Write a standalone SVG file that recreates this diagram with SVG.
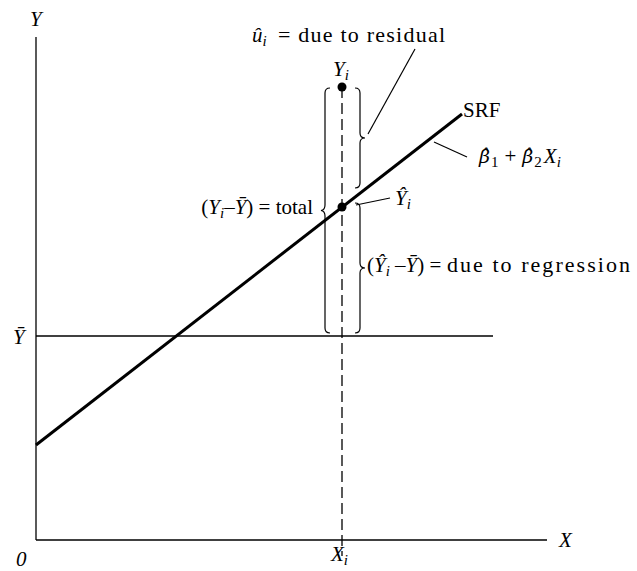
<svg xmlns="http://www.w3.org/2000/svg" width="637" height="571" viewBox="0 0 637 571">
<style>
text{font-family:"Liberation Serif","DejaVu Serif",serif;font-size:21px;fill:#000}
.it{font-style:italic}
.sub{font-size:15px}
.big{font-size:22px}
.dv{font-family:"DejaVu Serif",serif;font-size:19px}
.ax{stroke:#000;stroke-width:1.3;fill:none}
.thin{stroke:#000;stroke-width:1.2;fill:none}
.srf{stroke:#000;stroke-width:3;fill:none}
.dash{stroke:#000;stroke-width:1.3;stroke-dasharray:11 5;fill:none}
</style>
<rect width="637" height="571" fill="#fff"/>
<g id="axes">
<line class="ax" x1="36" y1="37" x2="36" y2="540"/>
<line class="ax" x1="36" y1="540" x2="547" y2="540"/>
<line class="ax" x1="36" y1="336" x2="493" y2="336"/>
<text class="it" x="30" y="26">Y</text>
<text class="it" x="559" y="547">X</text>
<text class="it" x="16" y="566">0</text>
<text class="it" x="13" y="344">Ȳ</text>
<text x="331" y="561"><tspan class="it">X</tspan><tspan class="it sub" dy="4">i</tspan></text>
</g>
<g id="connectors">
<line class="srf" x1="36" y1="445" x2="462" y2="114"/>
<line class="dash" x1="342" y1="87" x2="342" y2="556"/>
<line class="thin" x1="368" y1="134" x2="415" y2="49"/>
<line class="thin" x1="434" y1="142" x2="467" y2="157"/>
<line class="thin" x1="356" y1="205" x2="390" y2="198"/>
<path class="thin" d="M330,88 Q325,88 325,93 L325,205 Q325,210 321,210.5 Q325,211 325,216 L325,328 Q325,333 330,333"/>
<path class="thin" d="M355,88 Q360,88 360,93 L360,133 Q360,138 365,138 Q360,138 360,143 L360,183 Q360,188 355,188"/>
<path class="thin" d="M355,203 Q360,203 360,208 L360,263 Q360,268 365,268 Q360,268 360,273 L360,328 Q360,333 355,333"/>
</g>
<g id="Yi">
<circle cx="342" cy="87" r="4.5" fill="#000"/>
<text x="333" y="76"><tspan class="it">Y</tspan><tspan class="it sub" dy="4">i</tspan></text>
</g>
<g id="Yhat">
<circle cx="342" cy="207" r="4.5" fill="#000"/>
<text x="395" y="205"><tspan class="it">Ŷ</tspan><tspan class="it sub" dy="4">i</tspan></text>
</g>
<g id="residual">
<text x="252" y="42"><tspan class="it">û</tspan><tspan class="it sub" dy="4">i</tspan></text>
<text class="big" x="278" y="42" textLength="167" lengthAdjust="spacing">= due to residual</text>
</g>
<g id="SRF">
<text x="463" y="117">SRF</text>
<text x="479" y="163"><tspan class="it dv">β̂</tspan><tspan class="sub" dx="1" dy="4">1</tspan><tspan dx="6" dy="-4">+</tspan><tspan class="it dv" dx="6">β̂</tspan><tspan class="sub" dx="1" dy="4">2</tspan><tspan class="it" dx="2" dy="-4">X</tspan><tspan class="it sub" dy="4">i</tspan></text>
</g>
<g id="total">
<text x="313" y="214" text-anchor="end"><tspan>(</tspan><tspan class="it">Y</tspan><tspan class="it sub" dy="4">i</tspan><tspan dy="-4">–</tspan><tspan class="it">Ȳ</tspan><tspan>) = total</tspan></text>
</g>
<g id="regression">
<text x="367" y="272"><tspan>(</tspan><tspan class="it">Ŷ</tspan><tspan class="it sub" dy="4">i</tspan><tspan dy="-4"> –</tspan><tspan class="it">Ȳ</tspan><tspan>) =</tspan></text>
<text class="big" x="447" y="272" textLength="183" lengthAdjust="spacing">due to regression</text>
</g>
</svg>
